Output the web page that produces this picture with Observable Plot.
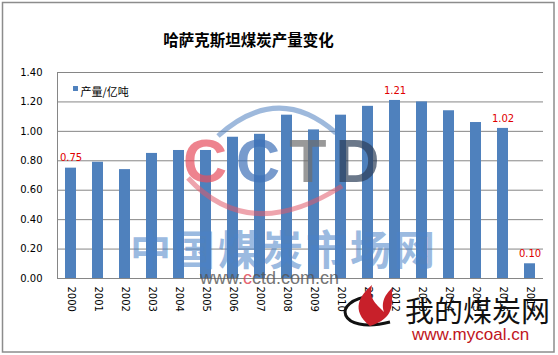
<!DOCTYPE html>
<html><head><meta charset="utf-8">
<script src="https://cdn.jsdelivr.net/npm/d3@7"></script>
<script src="https://cdn.jsdelivr.net/npm/@observablehq/plot@0.6"></script>
<style>body{margin:0;background:#fff} svg{display:block}</style>
</head><body><div id="chart"></div>
<script>
const title = "哈萨克斯坦煤炭产量变化";
const seriesName = "产量/亿吨";
const years = ["2000","2001","2002","2003","2004","2005","2006","2007","2008","2009","2010","2011","2012","2013","2014","2015","2016","2017"];
const output = [0.75,0.79,0.74,0.85,0.87,0.87,0.96,0.98,1.11,1.01,1.11,1.17,1.21,1.20,1.14,1.06,1.02,0.10];
const labeledYears = ["2000","2012","2016","2017"];
const yTicks = [0,0.2,0.4,0.6,0.8,1.0,1.2,1.4];

const data = years.map((year, i) => ({year, value: output[i]}));
const labeled = data.filter(d => labeledYears.includes(d.year));

const cjk = "'Noto Sans CJK SC', sans-serif";
const chart = Plot.plot({
  width: 558, height: 355,
  marginLeft: 57, marginRight: 15, marginTop: 72, marginBottom: 77,
  style: {fontFamily: "'DejaVu Sans', sans-serif", fontSize: "10px", color: "#000", background: "#fff"},
  x: {domain: years, paddingInner: 0.6, paddingOuter: 0.3, tickSize: 0, tickPadding: 8, tickRotate: 90, label: null},
  y: {domain: [0, 1.4], ticks: yTicks, tickFormat: d3.format(".2f"), tickSize: 0, tickPadding: 15, label: null},
  marks: [
    Plot.ruleY(yTicks, {stroke: "#868686", strokeWidth: 1}),
    Plot.frame({anchor: "left", stroke: "#868686"}),
    Plot.barY(data, {x: "year", y: "value", fill: "#4f81bd"}),
    Plot.text(labeled, {x: "year", y: "value", text: d => d.value.toFixed(2), dy: -10, fill: "#e00000", fontSize: 10}),
    Plot.text([title], {frameAnchor: "top", dx: -52, dy: -38, fontSize: 15.5, fontWeight: "bold", fontFamily: cjk, fill: "#000"}),
    Plot.dot([seriesName], {frameAnchor: "top-left", dx: 18, dy: 16, symbol: "square", r: 2.8, fill: "#4f81bd", stroke: null}),
    Plot.text([seriesName], {frameAnchor: "top-left", dx: 23, dy: 16, textAnchor: "start", fontSize: 11, fontFamily: cjk, fill: "#000"})
  ]
});

const svg = d3.select(chart);
// outer border
svg.append("rect").attr("x", 2.5).attr("y", 2.5).attr("width", 551.5).attr("height", 349.5)
  .attr("fill", "none").attr("stroke", "#8c8c8c").attr("stroke-width", 1.5);

// CCTD watermark
const wm = svg.append("g").attr("pointer-events", "none").attr("text-anchor", "start");
wm.append("path").attr("d", "M218,136 Q278,82 336,133").attr("fill", "none")
  .attr("stroke", "#4f7fc0").attr("stroke-width", 5).attr("opacity", 0.55);
wm.append("path").attr("d", "M188,178 Q250,245 342,186").attr("fill", "none")
  .attr("stroke", "#e05a6a").attr("stroke-width", 5).attr("opacity", 0.55);
const cctd = wm.append("text").attr("x", 183).attr("y", 182)
  .attr("font-family", "'Liberation Sans', Arial, sans-serif").attr("font-size", 61).attr("font-weight", "bold")
  .attr("letter-spacing", 9).attr("opacity", 0.7);
[["C", "#e8505f"], ["C", "#3f72b8"], ["T", "#6e6e6e"], ["D", "#2d3f5a"]].forEach(([ch, col]) =>
  cctd.append("tspan").attr("fill", col).text(ch));

wm.append("text").attr("x", 130).attr("y", 265).attr("font-family", cjk).attr("font-size", 41).attr("font-weight", "bold")
  .attr("letter-spacing", 3).attr("fill", "#4a82c8").attr("opacity", 0.55).text("中国煤炭市场网");
const www = wm.append("text").attr("x", 200).attr("y", 284).attr("font-family", "'Liberation Sans', Arial, sans-serif")
  .attr("font-size", 18).attr("fill", "#555").attr("opacity", 0.8);
www.append("tspan").text("www.");
www.append("tspan").attr("fill", "#e04050").text("c");
www.append("tspan").text("ctd.com.cn");

// mycoal watermark
const mc = svg.append("g").attr("text-anchor", "start");
mc.append("path").attr("d", "M372,296 C330,300 338,335 390,322").attr("fill", "none")
  .attr("stroke", "#111").attr("stroke-width", 3);
mc.append("path").attr("d", "M370,326 C350,310 360,295 372,285 C368,300 378,305 384,312 C380,300 388,292 392,288 C392,305 395,318 370,326 Z")
  .attr("fill", "#c8202a");
mc.append("text").attr("x", 405).attr("y", 322).attr("font-family", cjk).attr("font-size", 29)
  .attr("fill", "#111").text("我的煤炭网");
mc.append("text").attr("x", 412).attr("y", 340).attr("font-family", "'Liberation Sans', Arial, sans-serif")
  .attr("font-size", 17).attr("fill", "#c0141c").text("www.mycoal.cn");

document.getElementById("chart").appendChild(chart);
</script>
</body></html>
